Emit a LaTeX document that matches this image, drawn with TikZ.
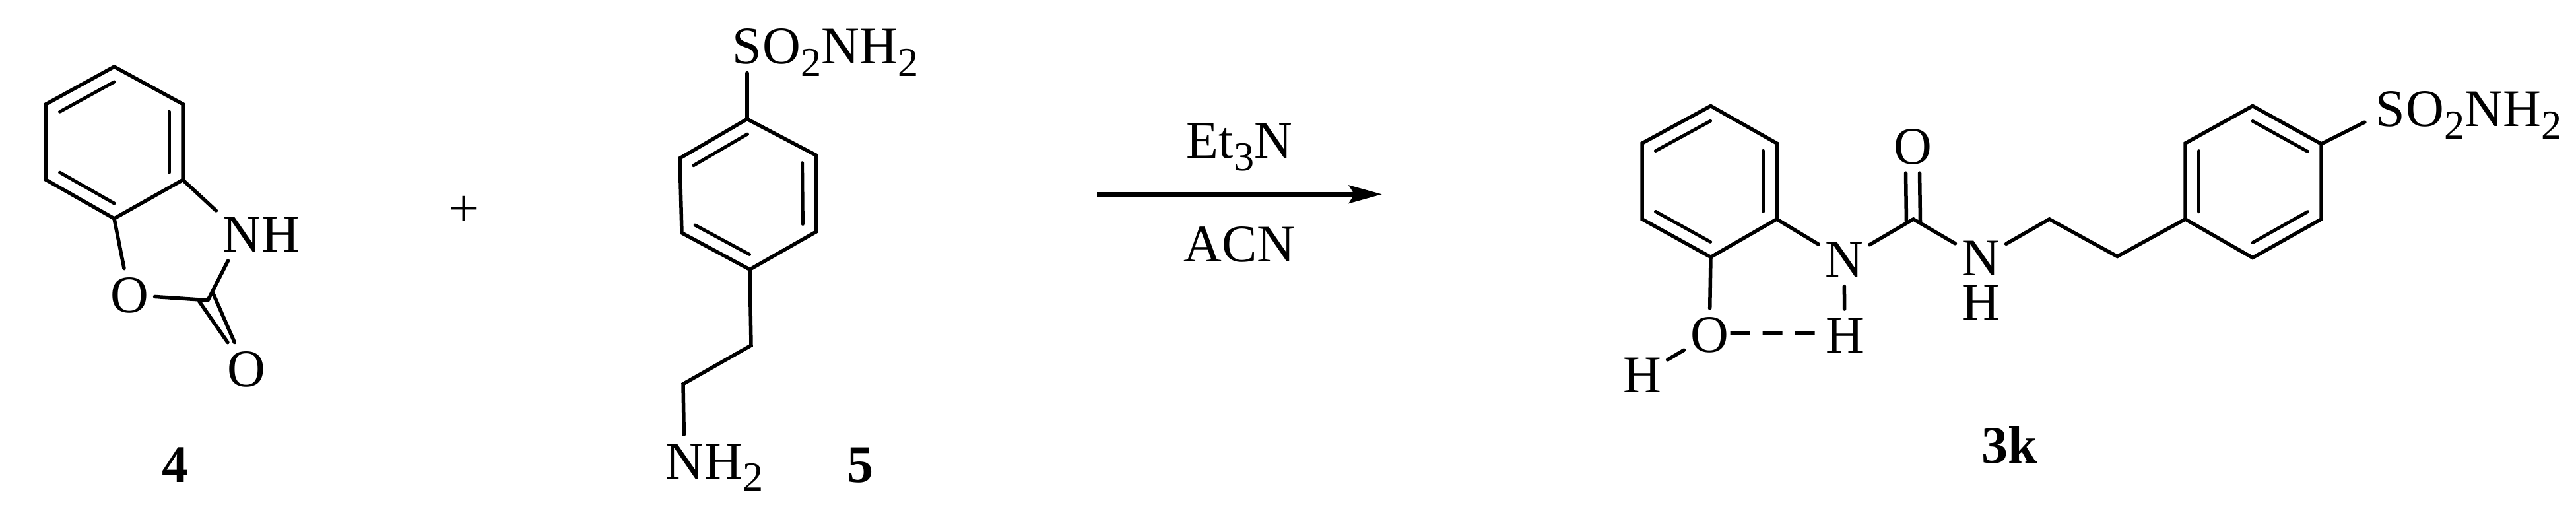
\documentclass[tikz,border=0pt]{standalone}
\usepackage{fontspec}
\setmainfont{Liberation Serif}
\usetikzlibrary{positioning,calc,arrows.meta}
\newcommand{\subnum}[1]{\raisebox{-.23em}{\fontsize{17.7}{20}\selectfont #1}}
\tikzset{
  bond/.style={line width=.055cm,line cap=round},
  inner/.style={line width=.05cm,line cap=round},
  hbond/.style={line width=.055cm,dash pattern=on .30cm off .19cm,shorten <=-.07cm,shorten >=-.06cm},
  rxnarrow/.style={line width=.07cm,-{Stealth[length=.5cm,width=.27cm,inset=.08cm]}},
  atom/.style={font=\fontsize{22.76}{26}\selectfont,inner xsep=.09cm,inner ysep=.13cm,text height=.53cm,text depth=0pt},
  cmpd/.style={atom,font=\fontsize{22.76}{26}\selectfont\bfseries},
  tail/.style={right=-.18cm of #1}
}
\begin{document}
\begin{tikzpicture}[x=.01cm,y=-.0099cm]
  \useasboundingbox (0,0) rectangle (3903,781);
  % benzoxazolone
  \coordinate (a1) at (173,102);
  \coordinate (a2) at (277,159);
  \coordinate (a3) at (277,275);
  \coordinate (a4) at (173,334);
  \coordinate (a5) at (70,275);
  \coordinate (a6) at (70,159);
  \coordinate (ac) at (173,218);
  \coordinate (c4) at (315,459);
  \node[atom] (n4) at (366,358) {N};
  \node[atom,tail=n4] (h4) {H};
  \node[atom] (o4) at (196,451) {O};
  \node[atom] (ox4) at (373,564) {O};
  \node[cmpd] (lbl4) at (266,710) {4};
  \draw[bond] (a1) -- (a2) -- (a3) -- (a4) -- (a5) -- (a6) -- cycle;
  \draw[inner] ($(a6)!.2!(ac)$) -- ($(a1)!.2!(ac)$);
  \draw[inner] ($(a2)!.2!(ac)$) -- ($(a3)!.2!(ac)$);
  \draw[inner] ($(a4)!.2!(ac)$) -- ($(a5)!.2!(ac)$);
  \draw[bond] ([shift={(-.13cm,-.02cm)}]c4) -- ([shift={(-.27cm,.29cm)}]ox4);
  \draw[bond] ([shift={(.08cm,.10cm)}]c4) -- ([shift={(-.07cm,.39cm)}]ox4);
  \draw[bond] (a3) -- (n4);
  \draw[bond] (a4) -- (o4);
  \draw[bond] (o4) -- (c4) -- (n4);
  \node[atom] (plus) at (703,319) {+};
  % amine
  \coordinate (b1) at (1132,182);
  \coordinate (b2) at (1236,237);
  \coordinate (b3) at (1237,354);
  \coordinate (b4) at (1136,412);
  \coordinate (b5) at (1033,356);
  \coordinate (b6) at (1030,242);
  \coordinate (bc) at (1134,297);
  \coordinate (e1) at (1138,528);
  \coordinate (e2) at (1035,587);
  \node[atom] (s5) at (1132,71) {S};
  \node[atom,tail=s5] (so5) {O\subnum{2}NH\subnum{2}};
  \node[atom] (n5) at (1037,705) {N};
  \node[atom,tail=n5] (h5) {H\subnum{2}};
  \node[cmpd] (lbl5) at (1303,710) {5};
  \draw[bond] (b1) -- (b2) -- (b3) -- (b4) -- (b5) -- (b6) -- cycle;
  \draw[inner] ($(b6)!.2!(bc)$) -- ($(b1)!.2!(bc)$);
  \draw[inner] ($(b2)!.2!(bc)$) -- ($(b3)!.2!(bc)$);
  \draw[inner] ($(b4)!.2!(bc)$) -- ($(b5)!.2!(bc)$);
  \draw[bond] (s5) -- (b1);
  \draw[bond] (b4) -- (e1) -- (e2) -- (n5);
  % reaction arrow
  \coordinate (arrowstart) at (1662,297);
  \coordinate (arrowend) at (2094,297);
  \draw[rxnarrow] (arrowstart) -- (arrowend)
    node[midway,atom,anchor=south,yshift=.38cm] (base) {Et\subnum{3}N}
    node[midway,atom,anchor=north,yshift=-.33cm] (solvent) {ACN};
  % urea product
  \coordinate (p1) at (2592,162);
  \coordinate (p2) at (2692,219);
  \coordinate (p3) at (2692,335);
  \coordinate (p4) at (2592,393);
  \coordinate (p5) at (2488,335);
  \coordinate (p6) at (2488,219);
  \coordinate (pc) at (2590,277);
  \coordinate (c3) at (2899,335);
  \coordinate (f1) at (3105,335);
  \coordinate (f2) at (3208,392);
  \coordinate (q1) at (3413,162);
  \coordinate (q2) at (3517,220);
  \coordinate (q3) at (3517,335);
  \coordinate (q4) at (3413,394);
  \coordinate (q5) at (3311,335);
  \coordinate (q6) at (3311,219);
  \coordinate (qc) at (3414,278);
  \node[atom] (o3) at (2590,512) {O};
  \node[atom] (ho3) at (2488,573) {H};
  \node[atom] (na3) at (2794,397) {N};
  \node[atom] (ha3) at (2795,513) {H};
  \node[atom] (nb3) at (3001,395) {N};
  \node[atom,inner ysep=0pt] (hb3) at (3001,462) {H};
  \node[atom] (ox3) at (2898,224) {O};
  \node[atom] (s3) at (3622,167) {S};
  \node[atom,tail=s3] (so3) {O\subnum{2}NH\subnum{2}};
  \node[cmpd] (lbl3) at (3045,681) {3k};
  \draw[bond] (p1) -- (p2) -- (p3) -- (p4) -- (p5) -- (p6) -- cycle;
  \draw[inner] ($(p6)!.2!(pc)$) -- ($(p1)!.2!(pc)$);
  \draw[inner] ($(p2)!.2!(pc)$) -- ($(p3)!.2!(pc)$);
  \draw[inner] ($(p4)!.2!(pc)$) -- ($(p5)!.2!(pc)$);
  \draw[bond] (q1) -- (q2) -- (q3) -- (q4) -- (q5) -- (q6) -- cycle;
  \draw[inner] ($(q6)!.2!(qc)$) -- ($(q5)!.2!(qc)$);
  \draw[inner] ($(q1)!.2!(qc)$) -- ($(q2)!.2!(qc)$);
  \draw[inner] ($(q3)!.2!(qc)$) -- ($(q4)!.2!(qc)$);
  \draw[bond] ([shift={(-.105cm,-.05cm)}]c3) -- ([xshift=-.105cm]ox3.south);
  \draw[bond] ([shift={(.105cm,-.05cm)}]c3) -- ([xshift=.105cm]ox3.south);
  \draw[bond] (p3) -- (na3);
  \draw[bond] (na3) -- (c3) -- (nb3);
  \draw[bond] (nb3) -- (f1) -- (f2) -- (q5);
  \draw[bond] (p4) -- (o3);
  \draw[bond] (o3) -- (ho3);
  \draw[bond] (na3) -- (ha3);
  \draw[bond,shorten >=.08cm] (q2) -- (s3);
  \draw[hbond] ([yshift=.03cm]o3.east) -- ([yshift=.04cm]ha3.west);
\end{tikzpicture}
\end{document}
